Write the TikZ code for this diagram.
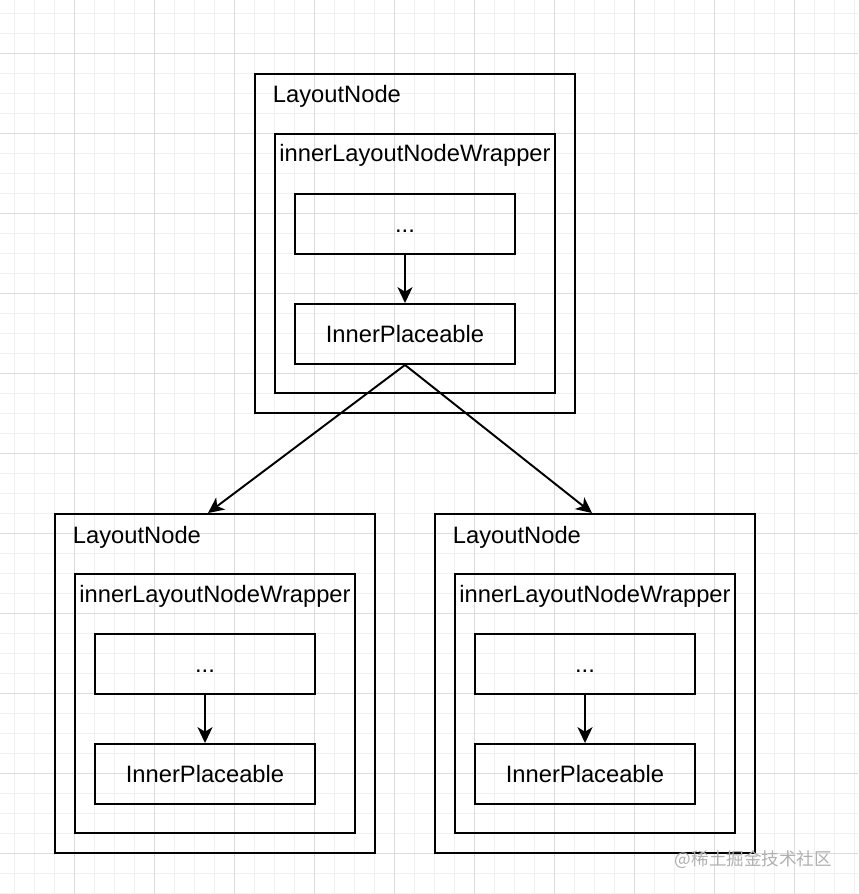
\documentclass[tikz,border=0pt]{standalone}
\usepackage{fontspec}
\setmainfont{Liberation Sans}
\newfontfamily\cjkfont{Noto Sans CJK SC}
\usepackage{xcolor}
\usepackage{tikz}
\usetikzlibrary{arrows.meta, positioning, calc}

\definecolor{gridminor}{HTML}{F0F0F0}
\definecolor{gridmajor}{HTML}{DCDCDC}
\definecolor{markgray}{HTML}{B0B0B0}

\begin{document}
\begin{tikzpicture}[->, >={Stealth[length=9pt, width=8.5pt, inset=2.5pt]}, line width=1.1pt, font=\fontsize{13.5}{16}\selectfont]
  \tikzstyle{outerbox} = [rectangle, draw, minimum width=6.4cm, minimum height=6.78cm, inner sep=0pt]
  \tikzstyle{wrapbox} = [rectangle, draw, minimum width=5.6cm, minimum height=5.18cm, inner sep=0pt]
  \tikzstyle{stepbox} = [rectangle, draw, minimum width=4.4cm, minimum height=1.2cm, inner sep=0pt, text height=9.9pt, text depth=0pt]
  \tikzstyle{caption} = [inner sep=0pt]

  \useasboundingbox (0,0) rectangle (17.16,-17.88);

  % background grid
  \begin{scope}[-, shift={(0.28,-0.26)}]
    \draw[gridminor, line width=0.5pt, step=0.4] (-0.28,0.26) grid (16.88,-17.62);
  \end{scope}
  \begin{scope}[-, shift={(1.48,-1.06)}]
    \draw[gridmajor, line width=0.5pt, step=1.6] (-1.48,1.06) grid (15.68,-16.82);
  \end{scope}

  % top layout node
  \node[outerbox] (TopNode) at (8.3,-4.87) {};
  \node[wrapbox] (TopWrap) at (8.3,-5.27) {};
  \node[stepbox] (TopDots) at (8.1,-4.48) {...};
  \node[stepbox] (TopInner) at (8.1,-6.68) {InnerPlaceable};
  \node[caption, anchor=base west] (TopName) at (5.44,-2.06) {LayoutNode};
  \node[caption, anchor=base] (TopWrapName) at (8.3,-3.24) {innerLayoutNodeWrapper};

  % left layout node
  \node[outerbox] (LeftNode) at (4.3,-13.67) {};
  \node[wrapbox] (LeftWrap) at (4.3,-14.07) {};
  \node[stepbox] (LeftDots) at (4.1,-13.28) {...};
  \node[stepbox] (LeftInner) at (4.1,-15.48) {InnerPlaceable};
  \node[caption, anchor=base west] (LeftName) at (1.44,-10.86) {LayoutNode};
  \node[caption, anchor=base] (LeftWrapName) at (4.3,-12.04) {innerLayoutNodeWrapper};

  % right layout node
  \node[outerbox] (RightNode) at (11.9,-13.67) {};
  \node[wrapbox] (RightWrap) at (11.9,-14.07) {};
  \node[stepbox] (RightDots) at (11.7,-13.28) {...};
  \node[stepbox] (RightInner) at (11.7,-15.48) {InnerPlaceable};
  \node[caption, anchor=base west] (RightName) at (9.04,-10.86) {LayoutNode};
  \node[caption, anchor=base] (RightWrapName) at (11.9,-12.04) {innerLayoutNodeWrapper};

  \path
    (TopDots) edge (TopInner)
    (LeftDots) edge (LeftInner)
    (RightDots) edge (RightInner)
    (TopInner.south) edge ([xshift=-0.14cm]LeftNode.north)
    (TopInner.south) edge ([xshift=-0.06cm]RightNode.north);

  \node[caption, anchor=east, text=markgray, font=\cjkfont\fontsize{10}{12}\selectfont] (Mark) at (16.66,-17.2) {@稀土掘金技术社区};
\end{tikzpicture}
\end{document}
